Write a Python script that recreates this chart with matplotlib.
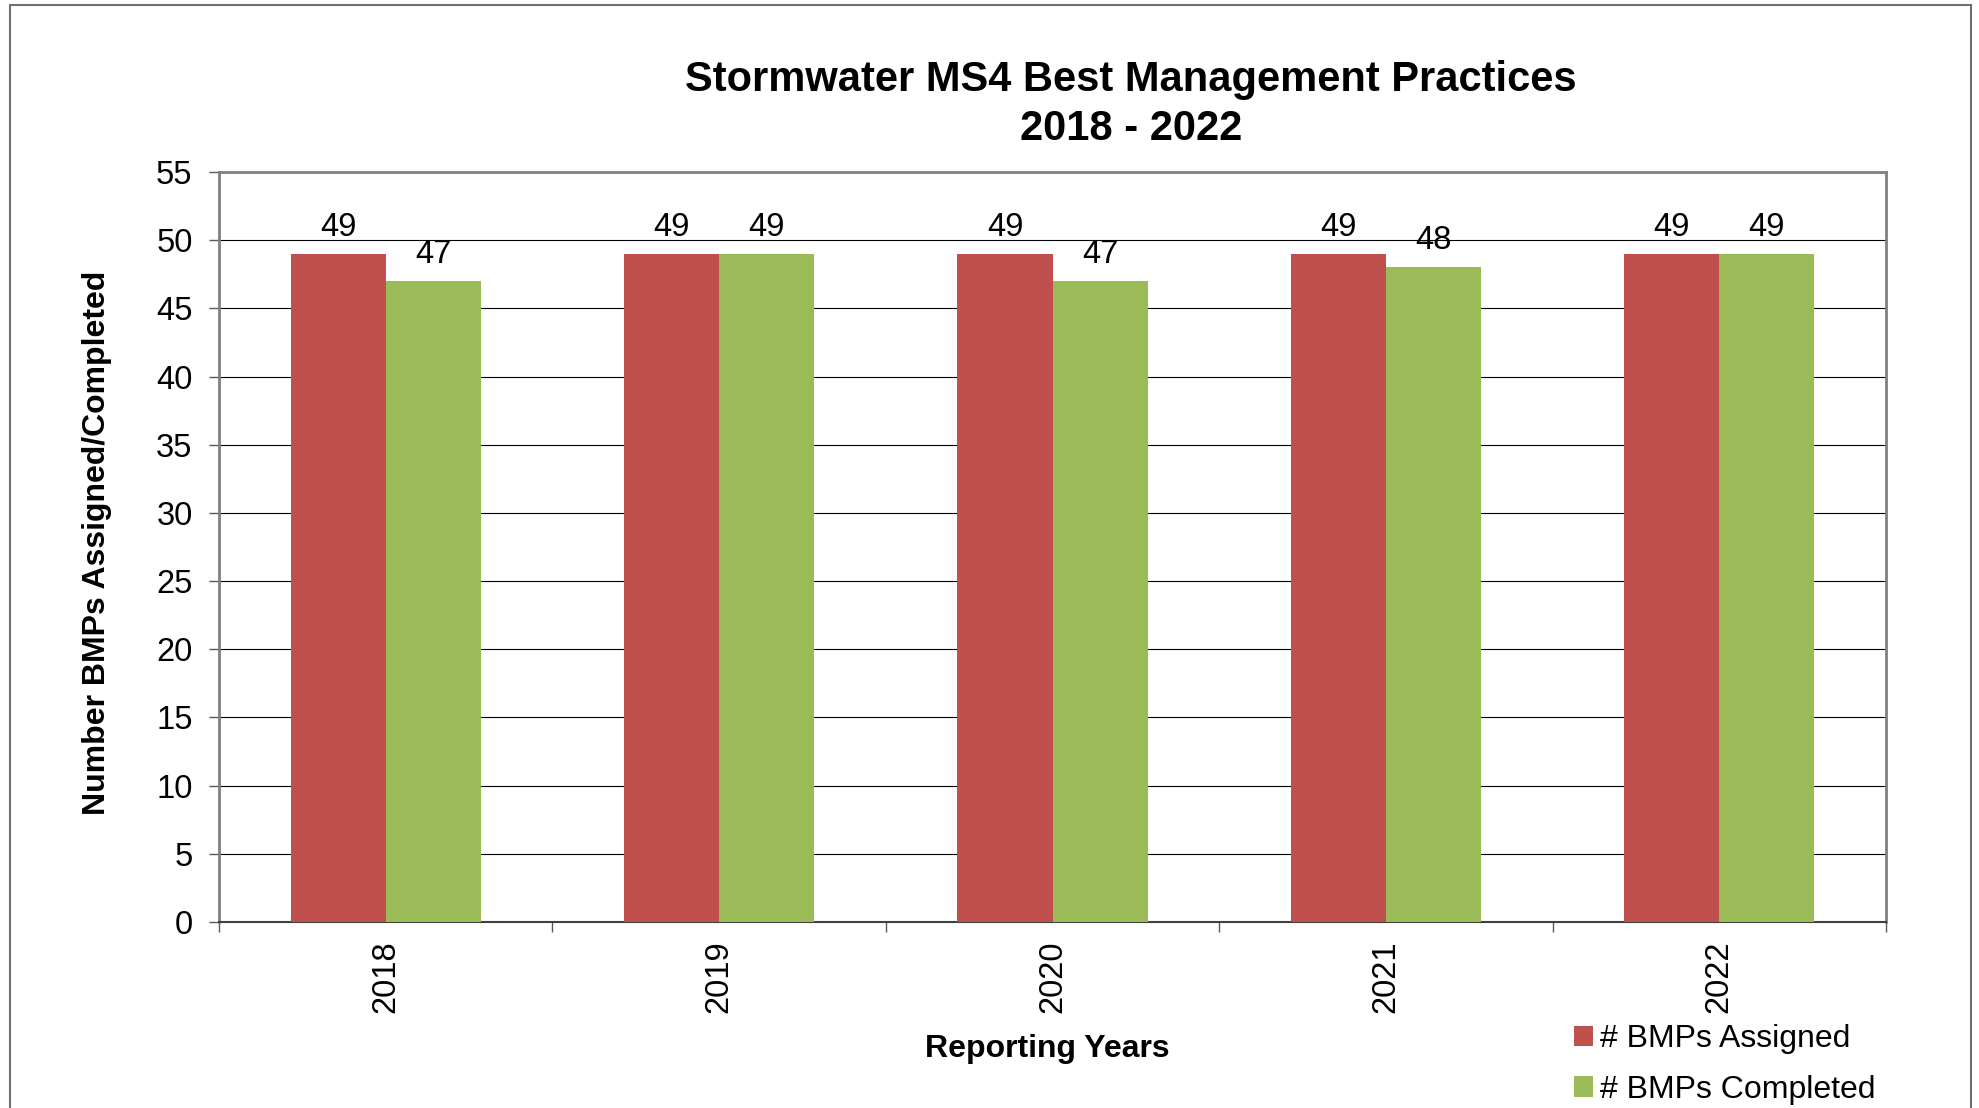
import numpy as np
import matplotlib
matplotlib.use('Agg')
import matplotlib.pyplot as plt
from matplotlib.patches import Patch, Rectangle

# data
years = ['2018', '2019', '2020', '2021', '2022']
assigned = [49, 49, 49, 49, 49]
completed = [47, 49, 47, 48, 49]
series_names = ['# BMPs Assigned', '# BMPs Completed']
colors = ['#C0504D', '#9BBB59']
y_ticks = list(range(0, 60, 5))

plt.rcParams['font.family'] = ['Liberation Sans', 'DejaVu Sans']

W, H = 1979, 1108
fig = plt.figure(figsize=(W / 100, H / 100), dpi=100)

# axes placement in pixels (left, right, top, bottom)
L, R, T, B = 219, 1886, 172, 922
ax = fig.add_axes([L / W, 1 - B / H, (R - L) / W, (B - T) / H])

x = np.arange(len(years))
bw = 0.285
ax.bar(x - bw / 2, assigned, bw, color=colors[0], zorder=3)
ax.bar(x + bw / 2, completed, bw, color=colors[1], zorder=3)

fs = 23.5
# value labels
for xi, v in zip(x, assigned):
    ax.annotate(str(v), (xi - bw / 2, v), xytext=(0, 13), textcoords='offset points',
                ha='center', va='baseline', fontsize=fs)
for xi, v in zip(x, completed):
    ax.annotate(str(v), (xi + bw / 2, v), xytext=(0, 13), textcoords='offset points',
                ha='center', va='baseline', fontsize=fs)

ax.set_xlim(-0.5, len(years) - 0.5)
ax.set_ylim(0, 55)
ax.set_yticks(y_ticks)
ax.set_yticklabels([str(t) for t in y_ticks])
ax.yaxis.grid(True, color='black', linewidth=0.8, zorder=0)

ax.set_xticks(x)
ax.set_xticklabels(years, rotation=90)
ax.set_xticks(np.arange(len(years) + 1) - 0.5, minor=True)
ax.tick_params(axis='x', which='major', length=0, pad=13, labelsize=fs)
ax.tick_params(axis='x', which='minor', length=7, width=1, color='#595959', direction='out')
ax.tick_params(axis='y', length=7, width=1, color='#595959', direction='out', pad=12, labelsize=fs)

for side in ['left', 'top', 'right']:
    ax.spines[side].set_color('#808080')
    ax.spines[side].set_linewidth(2)
ax.spines['bottom'].set_color('#404040')
ax.spines['bottom'].set_linewidth(1.5)

# titles and axis labels
fig.text(1131 / W, 1 - 80 / H, 'Stormwater MS4 Best Management Practices',
         ha='center', va='center', fontsize=30, fontweight='bold')
fig.text(1131 / W, 1 - 129 / H, '2018 - 2022',
         ha='center', va='center', fontsize=30, fontweight='bold')
fig.text(1047 / W, 1 - 1049 / H, 'Reporting Years',
         ha='center', va='center', fontsize=23, fontweight='bold')
fig.text(97 / W, 1 - 543 / H, 'Number BMPs Assigned/Completed', rotation=90,
         ha='center', va='center', fontsize=23, fontweight='bold')

# legend
handles = [Patch(facecolor=c, edgecolor='none') for c in colors]
fig.legend(handles, series_names, loc='upper left', bbox_to_anchor=(1574 / W, 1 - 1024 / H),
           frameon=False, fontsize=23, handlelength=0.6, handleheight=0.6,
           handletextpad=0.2, labelspacing=0.65, borderpad=0, borderaxespad=0)

# outer chart border
fig.patches.append(Rectangle((10 / W, -0.02), (1971 - 10) / W, (H - 5) / H + 0.02,
                             transform=fig.transFigure, fill=False,
                             edgecolor='#707070', linewidth=1.5))

fig.savefig('out.png', dpi=100)
